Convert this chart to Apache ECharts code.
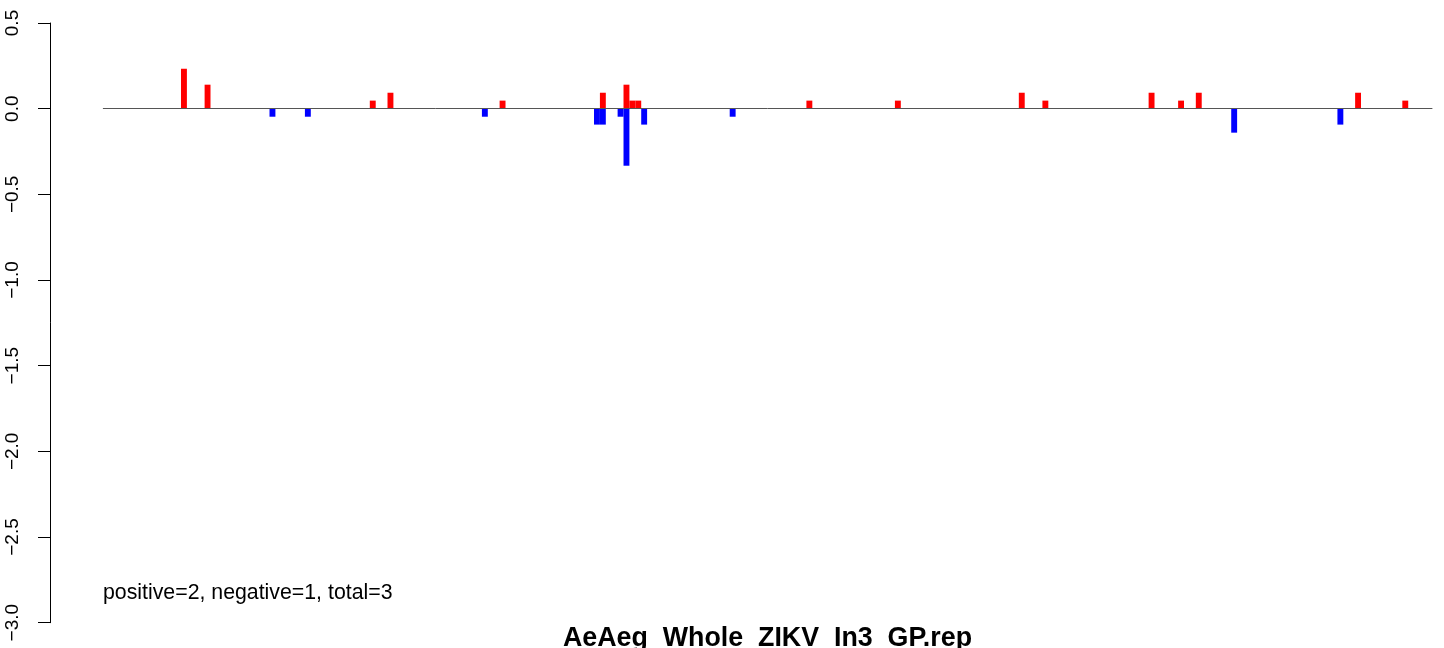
<!DOCTYPE html>
<html><head><meta charset="utf-8">
<script src="https://cdn.jsdelivr.net/npm/echarts@6/dist/echarts.min.js"></script>
<style>html,body{margin:0;padding:0;background:#fff}#c{width:1444px;height:648px}</style>
</head><body><div id="c"></div>
<script>
// slot positions (bar index along the x axis) and values
const posSlots = [14,18,46,49,68,85,89,90,91,120,135,156,160,178,183,186,213,221];
const posValues = [0.233,0.14,0.047,0.093,0.047,0.093,0.14,0.047,0.047,0.047,0.047,0.093,0.047,0.093,0.047,0.093,0.093,0.047];
const negSlots = [29,35,65,84,85,88,89,92,107,192,210];
const negValues = [-0.047,-0.047,-0.047,-0.093,-0.093,-0.047,-0.333,-0.093,-0.047,-0.14,-0.093];
const yTickLabels = ['−3.0','−2.5','−2.0','−1.5','−1.0','−0.5','0.0','0.5'];
const titleText = 'AeAeg_Whole_ZIKV_In3_GP.rep';
const noteText = 'positive=2, negative=1, total=3';

const chart = echarts.init(document.getElementById('c'), null, {renderer:'canvas'});
const font = 'Liberation Sans, Arial, Helvetica, sans-serif';
chart.setOption({
  animation:false,
  backgroundColor:'#fff',
  grid:{left:103.3, right:12, top:23, bottom:25.3, containLabel:false},
  xAxis:{type:'value', min:0.33, max:225.53, z:10,
    axisLine:{show:true, onZero:true, lineStyle:{color:'#555', width:1}},
    axisTick:{show:false}, axisLabel:{show:false}, splitLine:{show:false}},
  yAxis:{type:'value', min:-3, max:0.5, interval:0.5, position:'left', offset:53.3,
    axisLine:{show:true, lineStyle:{color:'#000', width:1}},
    axisTick:{show:true, length:12, inside:false, lineStyle:{color:'#000', width:1}},
    axisLabel:{rotate:90, fontSize:19, color:'#000', margin:28, fontFamily:font,
      formatter:(v)=>{const i=Math.round((v+3)/0.5); return yTickLabels[i];}},
    splitLine:{show:false}},
  series:[
    {type:'bar', barWidth:5.9, barGap:'-100%', itemStyle:{color:'#FF0000'},
     data:posSlots.map((s,k)=>[s,posValues[k]])},
    {type:'bar', barWidth:5.9, barGap:'-100%', itemStyle:{color:'#0000FF'},
     data:negSlots.map((s,k)=>[s,negValues[k]])}
  ],
  graphic:[
    {type:'text', left:103, top:583, style:{text:noteText, font:'21.3px '+font, fill:'#000'}},
    {type:'text', x:767.5, y:639, style:{text:titleText, font:'bold 26.8px '+font, fill:'#000', align:'center', verticalAlign:'middle'}}
  ]
});
</script></body></html>
